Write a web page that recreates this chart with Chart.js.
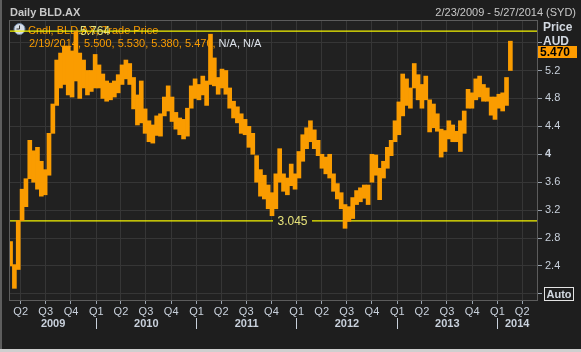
<!DOCTYPE html>
<html>
<head>
<meta charset="utf-8">
<script src="https://cdn.jsdelivr.net/npm/chart.js@4.4.1/dist/chart.umd.min.js"></script>
<style>
  html, body { margin: 0; padding: 0; background: #1e1e1e; }
  canvas { display: block; }
</style>
</head>
<body>
<canvas id="chart" width="581" height="352"></canvas>
<script>
// two-week periods (start date), price range in AUD
const periodStarts = [
  '2009-02-23','2009-03-09','2009-03-23','2009-04-06','2009-04-20','2009-05-04','2009-05-18','2009-06-01','2009-06-15','2009-06-29',
  '2009-07-13','2009-07-27','2009-08-10','2009-08-24','2009-09-07','2009-09-21','2009-10-05','2009-10-19','2009-11-02','2009-11-16',
  '2009-11-30','2009-12-14','2009-12-28','2010-01-11','2010-01-25','2010-02-08','2010-02-22','2010-03-08','2010-03-22','2010-04-05',
  '2010-04-19','2010-05-03','2010-05-17','2010-05-31','2010-06-14','2010-06-28','2010-07-12','2010-07-26','2010-08-09','2010-08-23',
  '2010-09-06','2010-09-20','2010-10-04','2010-10-18','2010-11-01','2010-11-15','2010-11-29','2010-12-13','2010-12-27','2011-01-10',
  '2011-01-24','2011-02-07','2011-02-21','2011-03-07','2011-03-21','2011-04-04','2011-04-18','2011-05-02','2011-05-16','2011-05-30',
  '2011-06-13','2011-06-27','2011-07-11','2011-07-25','2011-08-08','2011-08-22','2011-09-05','2011-09-19','2011-10-03','2011-10-17',
  '2011-10-31','2011-11-14','2011-11-28','2011-12-12','2011-12-26','2012-01-09','2012-01-23','2012-02-06','2012-02-20','2012-03-05',
  '2012-03-19','2012-04-02','2012-04-16','2012-04-30','2012-05-14','2012-05-28','2012-06-11','2012-06-25','2012-07-09','2012-07-23',
  '2012-08-06','2012-08-20','2012-09-03','2012-09-17','2012-10-01','2012-10-15','2012-10-29','2012-11-12','2012-11-26','2012-12-10',
  '2012-12-24','2013-01-07','2013-01-21','2013-02-04','2013-02-18','2013-03-04','2013-03-18','2013-04-01','2013-04-15','2013-04-29',
  '2013-05-13','2013-05-27','2013-06-10','2013-06-24','2013-07-08','2013-07-22','2013-08-05','2013-08-19','2013-09-02','2013-09-16',
  '2013-09-30','2013-10-14','2013-10-28','2013-11-11','2013-11-25','2013-12-09','2013-12-23','2014-01-06','2014-01-20','2014-02-03',
  '2014-02-17'
];
const periodLows = [
  2.40, 2.08, 2.35, 3.05, 3.25, 3.65, 3.60, 3.50, 3.40, 3.42,
  3.70, 4.30, 4.70, 4.95, 5.00, 4.85, 4.82, 5.05, 4.80, 4.95,
  4.85, 4.90, 4.95, 4.95, 4.80, 4.76, 4.78, 4.82, 4.88, 5.00,
  5.08, 5.00, 4.65, 4.42, 4.45, 4.30, 4.18, 4.16, 4.27, 4.26,
  4.55, 4.62, 4.47, 4.36, 4.28, 4.22, 4.26, 4.66, 4.80, 4.78,
  4.85, 4.70, 5.00, 4.98, 4.86, 4.95, 4.86, 4.66, 4.52, 4.45,
  4.30, 4.28, 4.10, 4.00, 3.60, 3.40, 3.36, 3.22, 3.12, 3.22,
  3.60, 3.47, 3.42, 3.55, 3.50, 3.66, 3.90, 4.08, 4.18, 4.08,
  3.98, 3.80, 3.72, 3.66, 3.47, 3.36, 3.22, 2.94, 3.04, 3.08,
  3.28, 3.32, 3.37, 3.28, 3.60, 3.70, 3.35, 3.66, 3.80, 3.98,
  4.18, 4.28, 4.55, 4.70, 4.66, 4.95, 4.78, 4.66, 4.78, 4.32,
  4.38, 4.33, 3.96, 4.04, 4.22, 4.18, 4.18, 4.04, 4.30, 4.66,
  4.66, 4.78, 4.82, 4.76, 4.76, 4.56, 4.50, 4.66, 4.62, 4.70,
  5.20
];
const periodHighs = [
  2.75, 2.42, 3.05, 3.50, 3.65, 4.20, 4.05, 4.10, 3.90, 3.78,
  4.30, 4.72, 5.35, 5.45, 5.55, 5.55, 5.48, 5.764, 5.45, 5.35,
  5.20, 5.20, 5.43, 5.28, 5.15, 5.05, 5.02, 5.05, 5.14, 5.28,
  5.35, 5.30, 5.10, 4.85, 5.05, 4.65, 4.48, 4.42, 4.55, 4.58,
  4.82, 4.98, 4.82, 4.60, 4.52, 4.50, 4.66, 4.98, 5.08, 5.00,
  5.12, 5.05, 5.72, 5.38, 5.10, 5.22, 5.20, 4.95, 4.76, 4.68,
  4.58, 4.50, 4.40, 4.30, 3.98, 3.78, 3.70, 3.56, 3.45, 3.72,
  4.08, 3.72, 3.66, 3.86, 3.72, 4.04, 4.28, 4.38, 4.48, 4.35,
  4.20, 4.00, 3.96, 4.00, 3.72, 3.58, 3.45, 3.28, 3.25, 3.38,
  3.48, 3.52, 3.56, 3.56, 4.00, 3.99, 3.80, 3.90, 4.10, 4.20,
  4.48, 4.75, 5.15, 5.08, 4.95, 5.30, 5.14, 5.00, 5.12, 4.78,
  4.72, 4.58, 4.36, 4.34, 4.48, 4.42, 4.33, 4.48, 4.62, 4.93,
  4.88, 5.08, 5.12, 5.00, 4.95, 4.82, 4.82, 4.86, 4.88, 5.10,
  5.62
];

const quarterStarts = [
  '2009-04-01','2009-07-01','2009-10-01',
  '2010-01-01','2010-04-01','2010-07-01','2010-10-01',
  '2011-01-01','2011-04-01','2011-07-01','2011-10-01',
  '2012-01-01','2012-04-01','2012-07-01','2012-10-01',
  '2013-01-01','2013-04-01','2013-07-01','2013-10-01',
  '2014-01-01','2014-04-01'
];
const quarterLabels = [
  'Q2','Q3','Q4',
  'Q1','Q2','Q3','Q4',
  'Q1','Q2','Q3','Q4',
  'Q1','Q2','Q3','Q4',
  'Q1','Q2','Q3','Q4',
  'Q1','Q2'
];
const years = ['2009', '2010', '2011', '2012', '2013', '2014'];
const yTickValues = [2.0, 2.4, 2.8, 3.2, 3.6, 4.0, 4.4, 4.8, 5.2, 5.6];
const yTickLabels = ['', '2.4', '2.8', '3.2', '3.6', '4', '4.4', '4.8', '5.2', ''];

const rangeStart = '2009-02-21';
const rangeEnd = '2014-05-25';
const highLine = 5.764;
const lowLine = 3.045;
const lastPrice = 5.470;
const lastCandle = ['2/19/2014', '5.500', '5.530', '5.380', '5.470'];

const ORANGE = '#fa9c00';
const AXIS_TEXT = '#c9d1dc';
const YELLOW = '#f4f400';
const FONT = "'Liberation Sans', Arial, sans-serif";

function dayNum(s) {
  return Date.parse(s + 'T00:00:00Z') / 864e5;
}

const xMin = dayNum(rangeStart);
const xMax = dayNum(rangeEnd);

// year axis: separators at Jan 1, label in the middle of the visible part
const yearTicks = [];
years.forEach(function (y) {
  const start = dayNum(y + '-01-01');
  const end = dayNum((+y + 1) + '-01-01');
  if (start > xMin) yearTicks.push({ value: start, label: '', sep: true });
  yearTicks.push({ value: (Math.max(start, xMin) + Math.min(end, xMax)) / 2, label: y, sep: false });
});

const candles = periodStarts.map(function (d, i) {
  return { x: dayNum(d), y: [periodLows[i], periodHighs[i]] };
});

const terminalLook = {
  id: 'terminalLook',
  beforeDraw(chart) {
    const { ctx, chartArea: a } = chart;
    ctx.save();
    ctx.fillStyle = '#1e1e1e';
    ctx.fillRect(0, 0, chart.width, chart.height);
    ctx.fillStyle = '#212121';
    ctx.fillRect(a.left, a.top, a.right - a.left, a.bottom - a.top);
    // window edges
    ctx.fillStyle = '#5e5e5e';
    ctx.fillRect(0, 0, 2, chart.height);
    ctx.fillStyle = '#cfcfcf';
    ctx.fillRect(0, chart.height - 3, chart.width, 3);

    // header
    ctx.textBaseline = 'middle';
    ctx.fillStyle = '#c8c8c8';
    ctx.font = 'bold 11px ' + FONT;
    ctx.textAlign = 'left';
    ctx.fillText('Daily BLD.AX', 10, 13);
    ctx.font = '11px ' + FONT;
    ctx.textAlign = 'right';
    ctx.fillText('2/23/2009 - 5/27/2014 (SYD)', 576, 13);
    ctx.restore();
  },
  beforeDatasetsDraw(chart) {
    const { ctx } = chart;
    ctx.save();
    // clock icon
    ctx.beginPath();
    ctx.arc(19.5, 29, 5.5, 0, Math.PI * 2);
    ctx.fillStyle = '#d6dde8';
    ctx.fill();
    ctx.strokeStyle = '#6f86a3';
    ctx.lineWidth = 1;
    ctx.stroke();
    ctx.beginPath();
    ctx.moveTo(19.5, 29);
    ctx.lineTo(19.5, 25.5);
    ctx.moveTo(19.5, 29);
    ctx.lineTo(16.5, 29);
    ctx.strokeStyle = '#333';
    ctx.stroke();

    // legend lines
    ctx.font = '11px ' + FONT;
    ctx.textAlign = 'left';
    ctx.textBaseline = 'middle';
    ctx.fillStyle = ORANGE;
    ctx.fillText('Cndl, BLD.AX, Trade Price', 28, 31);
    const values = lastCandle.join(', ') + ', ';
    ctx.fillText(values, 29, 44);
    const w = ctx.measureText(values).width;
    ctx.fillStyle = '#dde2ea';
    ctx.fillText('N/A, N/A', 29 + w, 44);
    ctx.restore();
  },
  afterDatasetsDraw(chart) {
    const { ctx, chartArea: a } = chart;
    const y = chart.scales.y;
    ctx.save();

    // reference line labels
    ctx.font = '12px ' + FONT;
    ctx.textBaseline = 'middle';
    ctx.textAlign = 'left';
    ctx.fillStyle = '#e6e27a';
    ctx.fillText(highLine.toFixed(3), 80, y.getPixelForValue(highLine) + 1);
    const ly = y.getPixelForValue(lowLine);
    ctx.fillStyle = '#212121';
    ctx.fillRect(273, ly - 2, 39, 4);
    ctx.fillStyle = '#e6e27a';
    ctx.textAlign = 'center';
    ctx.fillText(lowLine.toFixed(3), 292.5, ly + 1);

    // plot frame
    ctx.strokeStyle = '#5c5c5c';
    ctx.lineWidth = 1;
    ctx.strokeRect(a.left - 0.5, a.top - 0.5, a.right - a.left + 1, a.bottom - a.top + 1);

    // axis title
    ctx.textAlign = 'left';
    ctx.font = 'bold 12px ' + FONT;
    ctx.fillStyle = '#d2d8e0';
    ctx.fillText('Price', 543, 28);
    ctx.fillText('AUD', 543, 42);

    // last price badge
    const py = Math.round(y.getPixelForValue(lastPrice));
    ctx.fillStyle = '#ff9c00';
    ctx.fillRect(538, py - 6, 39, 12);
    ctx.fillStyle = '#000';
    ctx.fillText(lastPrice.toFixed(3), 540, py + 1);

    // Auto button
    ctx.strokeStyle = '#e4e4e4';
    ctx.strokeRect(544.5, 287.5, 29, 13);
    ctx.fillStyle = '#d2d8e0';
    ctx.font = 'bold 11px ' + FONT;
    ctx.textAlign = 'center';
    ctx.fillText('Auto', 559, 294.5);
    ctx.restore();
  }
};

new Chart(document.getElementById('chart'), {
  type: 'bar',
  data: {
    datasets: [
      {
        label: 'Cndl, BLD.AX, Trade Price',
        data: candles,
        backgroundColor: ORANGE,
        borderWidth: 0,
        barThickness: 4,
        grouped: false,
        order: 0
      },
      {
        type: 'line',
        label: 'high',
        data: [{ x: xMin, y: highLine }, { x: xMax, y: highLine }],
        borderColor: YELLOW,
        borderWidth: 1.2,
        pointRadius: 0,
        order: 1
      },
      {
        type: 'line',
        label: 'low',
        data: [{ x: xMin, y: lowLine }, { x: xMax, y: lowLine }],
        borderColor: YELLOW,
        borderWidth: 1.2,
        pointRadius: 0,
        order: 1
      }
    ]
  },
  plugins: [terminalLook],
  options: {
    responsive: false,
    animation: false,
    events: [],
    layout: { padding: { left: 10, top: 21, right: 0, bottom: 0 } },
    plugins: {
      legend: { display: false },
      tooltip: { enabled: false }
    },
    scales: {
      x: {
        type: 'linear',
        position: 'bottom',
        min: xMin,
        max: xMax,
        offset: false,
        afterBuildTicks: function (scale) {
          scale.ticks = quarterStarts.map(function (d) { return { value: dayNum(d) }; });
        },
        afterFit: function (scale) { scale.height = 18; },
        grid: { color: '#363636', offset: false, tickLength: 4, tickColor: '#9aa3ae' },
        border: { color: '#5c5c5c' },
        ticks: {
          autoSkip: false,
          maxRotation: 0,
          padding: 1,
          color: AXIS_TEXT,
          font: { family: FONT, size: 11 },
          callback: function (v, i) { return quarterLabels[i]; }
        }
      },
      xYear: {
        type: 'linear',
        position: 'bottom',
        min: xMin,
        max: xMax,
        offset: false,
        afterBuildTicks: function (scale) {
          scale.ticks = yearTicks.map(function (t) { return { value: t.value }; });
        },
        afterFit: function (scale) { scale.height = 34; },
        grid: {
          drawOnChartArea: false,
          offset: false,
          tickLength: 11,
          color: function (ctx) {
            const t = yearTicks[ctx.index];
            return t && t.sep ? AXIS_TEXT : 'rgba(0,0,0,0)';
          }
        },
        border: { display: false },
        ticks: {
          autoSkip: false,
          maxRotation: 0,
          padding: -12,
          color: AXIS_TEXT,
          font: { family: FONT, size: 11, weight: 'bold' },
          callback: function (v, i) { return yearTicks[i].label; }
        }
      },
      y: {
        type: 'linear',
        position: 'right',
        min: 1.913,
        max: 5.909,
        afterBuildTicks: function (scale) {
          scale.ticks = yTickValues.map(function (v) { return { value: v }; });
        },
        afterFit: function (scale) { scale.width = 44; },
        grid: { color: '#363636', tickLength: 5, tickColor: '#9aa3ae' },
        border: { color: '#5c5c5c' },
        ticks: {
          padding: 3,
          color: AXIS_TEXT,
          font: function (ctx) {
            return { family: FONT, size: 11, weight: ctx.tick && ctx.tick.value === 4 ? 'bold' : 'normal' };
          },
          callback: function (v, i) { return yTickLabels[i]; }
        }
      }
    }
  }
});
</script>
</body>
</html>
